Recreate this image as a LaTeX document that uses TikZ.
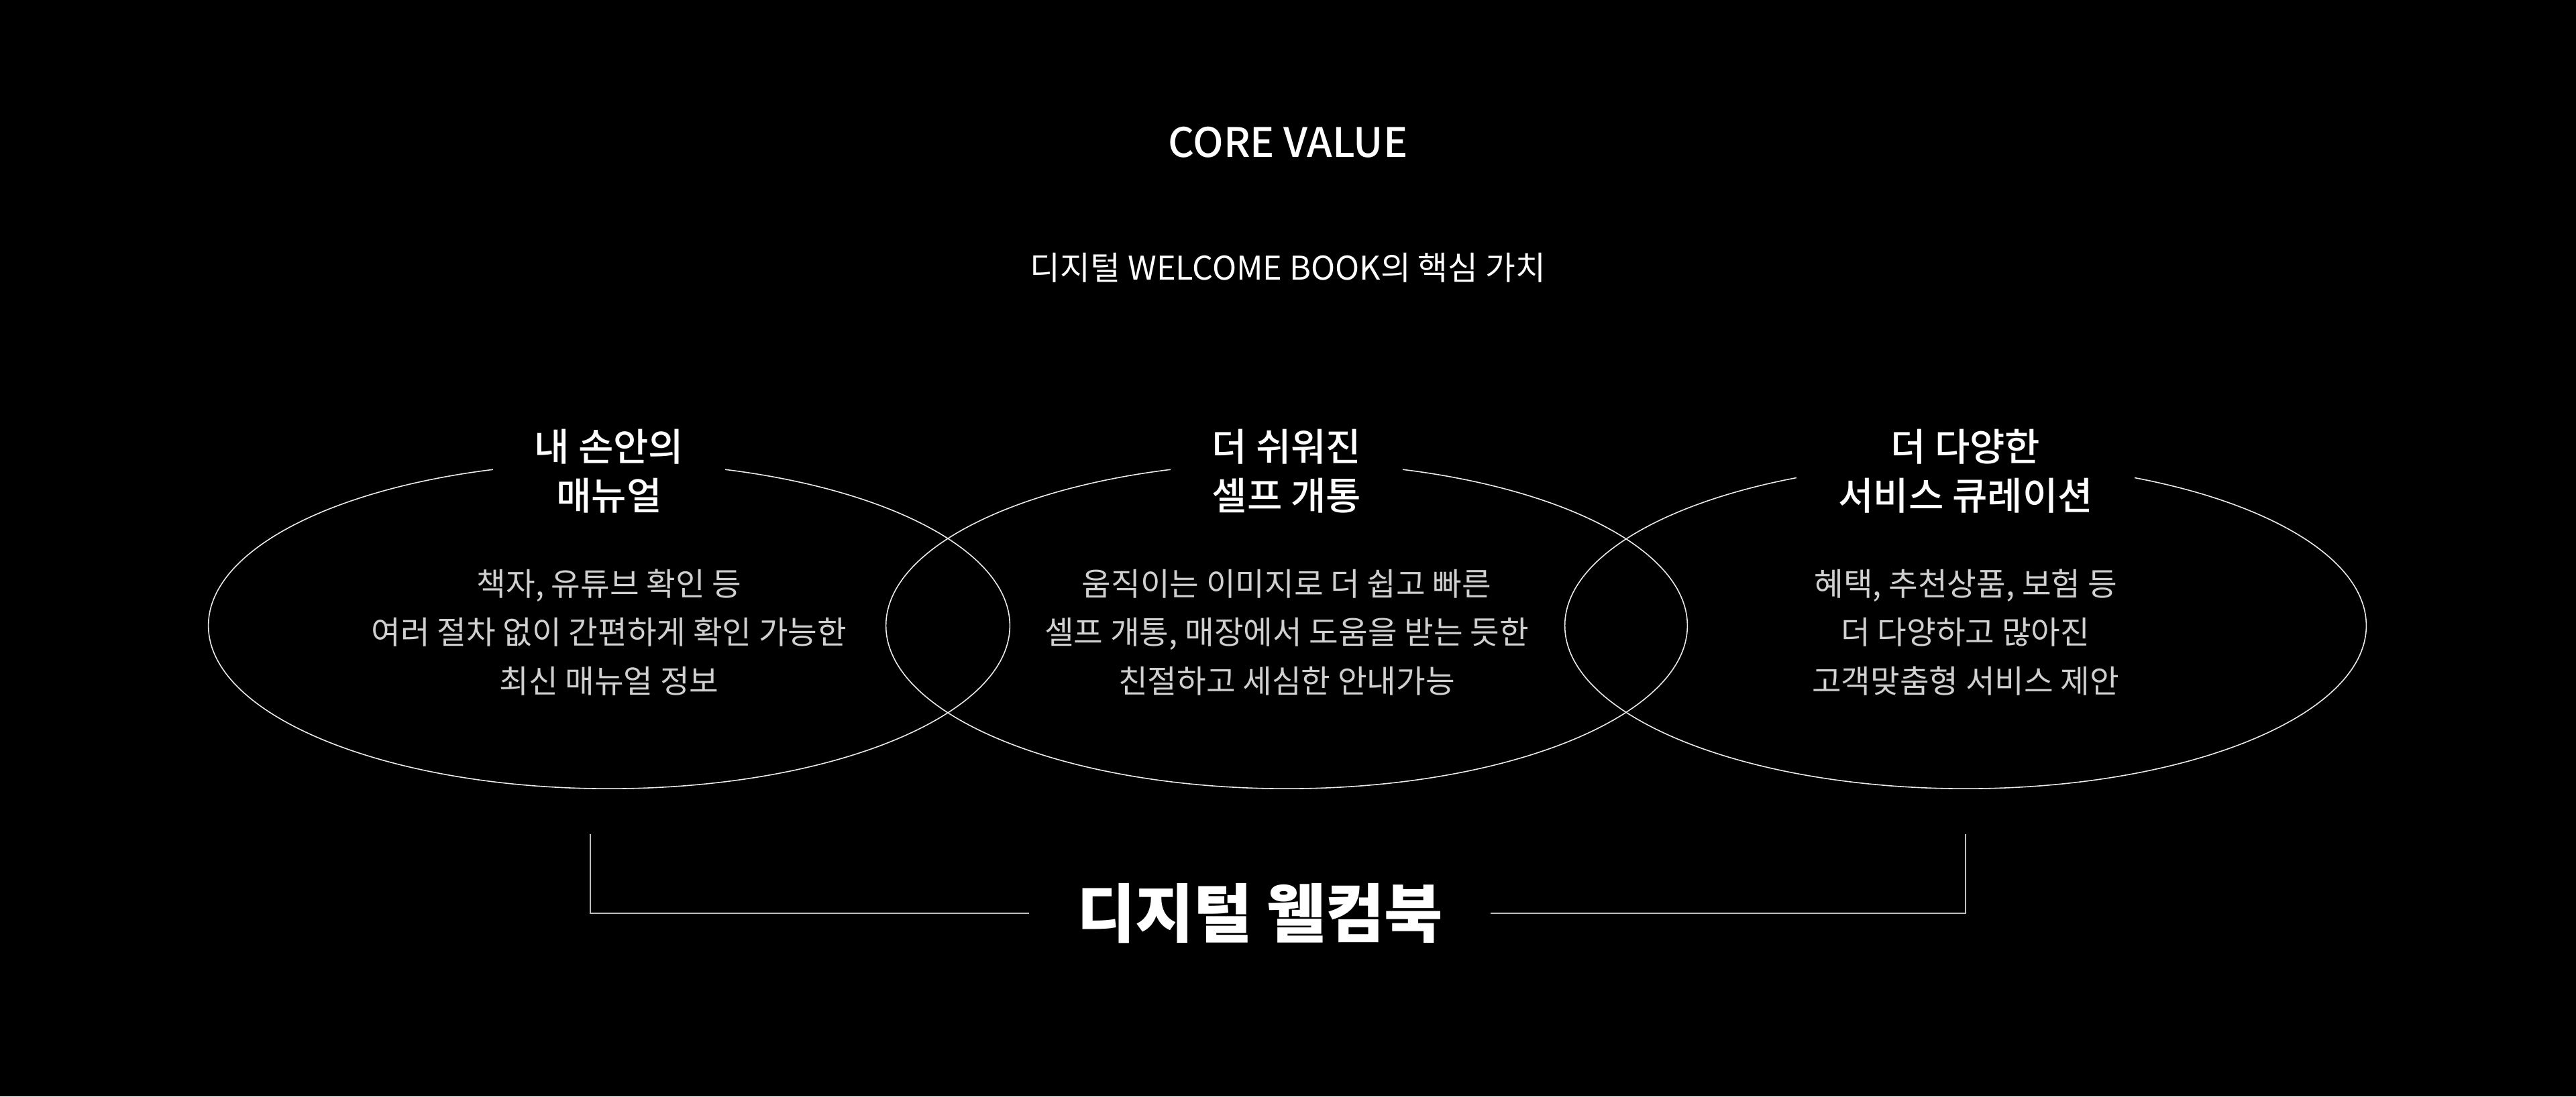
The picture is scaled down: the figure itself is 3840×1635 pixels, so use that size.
\documentclass[tikz,border=0pt]{standalone}
\usepackage{fontspec}
\usepackage{xcolor}
\usetikzlibrary{calc}
\setmainfont{Noto Sans CJK KR}
\newfontfamily\medfont{Noto Sans CJK KR Medium}
\definecolor{PageBg} {RGB}{0,0,0}
\definecolor{RingLn} {RGB}{235,235,235}
\definecolor{BodyTxt}{RGB}{208,208,208}
\definecolor{BrkLn}  {RGB}{190,190,190}
\tikzset{
  ring/.style={draw=RingLn,line width=0.45pt},
  nd_core/.style={text=white,anchor=base,font=\medfont\fontsize{17.2pt}{20pt}\selectfont},
  nd_sub/.style={text=white,anchor=base,font=\fontsize{13.85pt}{16pt}\selectfont},
  nd_head/.style={fill=PageBg,text=white,align=center,inner xsep=0.62cm,inner ysep=0pt,font=\medfont\fontsize{16.2pt}{20.8pt}\selectfont},
  nd_body/.style={text=BodyTxt,align=center,inner sep=0pt,font=\fontsize{13.5pt}{20.6pt}\selectfont},
  nd_brand/.style={fill=PageBg,text=white,inner xsep=0.7cm,font=\bfseries\fontsize{27pt}{30pt}\selectfont},
  brk/.style={draw=BrkLn,line width=0.6pt},
}
\newcommand{\valuering}[4]{%
  \draw[ring](#1,933) ellipse [x radius=5.97cm,y radius=2.43cm];
  \node[nd_head] at (#1,703)(#2h){#3};
  \node[nd_body] at (#1,943)(#2b){#4};}

\begin{document}
\begin{tikzpicture}[x=0.01cm,y=-0.01cm]
\fill[PageBg](0,0) rectangle (3840,1635);
\useasboundingbox(0,0) rectangle (3840,1635);
\node[nd_core] at (1920,234)(core){CORE VALUE};
\node[nd_sub]  at (1920,417)(sub){디지털 WELCOME BOOK의 핵심 가치};
% rings
\valuering{908}{manual}{내 손안의\\매뉴얼}{책자, 유튜브 확인 등\\여러 절차 없이 간편하게 확인 가능한\\최신 매뉴얼 정보}
\valuering{1918}{self}{더 쉬워진\\셀프 개통}{움직이는 이미지로 더 쉽고 빠른\\셀프 개통, 매장에서 도움을 받는 듯한\\친절하고 세심한 안내가능}
\valuering{2930}{serv}{더 다양한\\서비스 큐레이션}{혜택, 추천상품, 보험 등\\더 다양하고 많아진\\고객맞춤형 서비스 제안}
% bracket
\coordinate (bl) at (880,1244);
\coordinate (br) at (2930,1244);
\node[nd_brand] at (1878,1362)(brand){디지털 웰컴북};
\draw[brk](bl) |- (brand.west);
\draw[brk](br) |- (brand.east);
\end{tikzpicture}
\end{document}
